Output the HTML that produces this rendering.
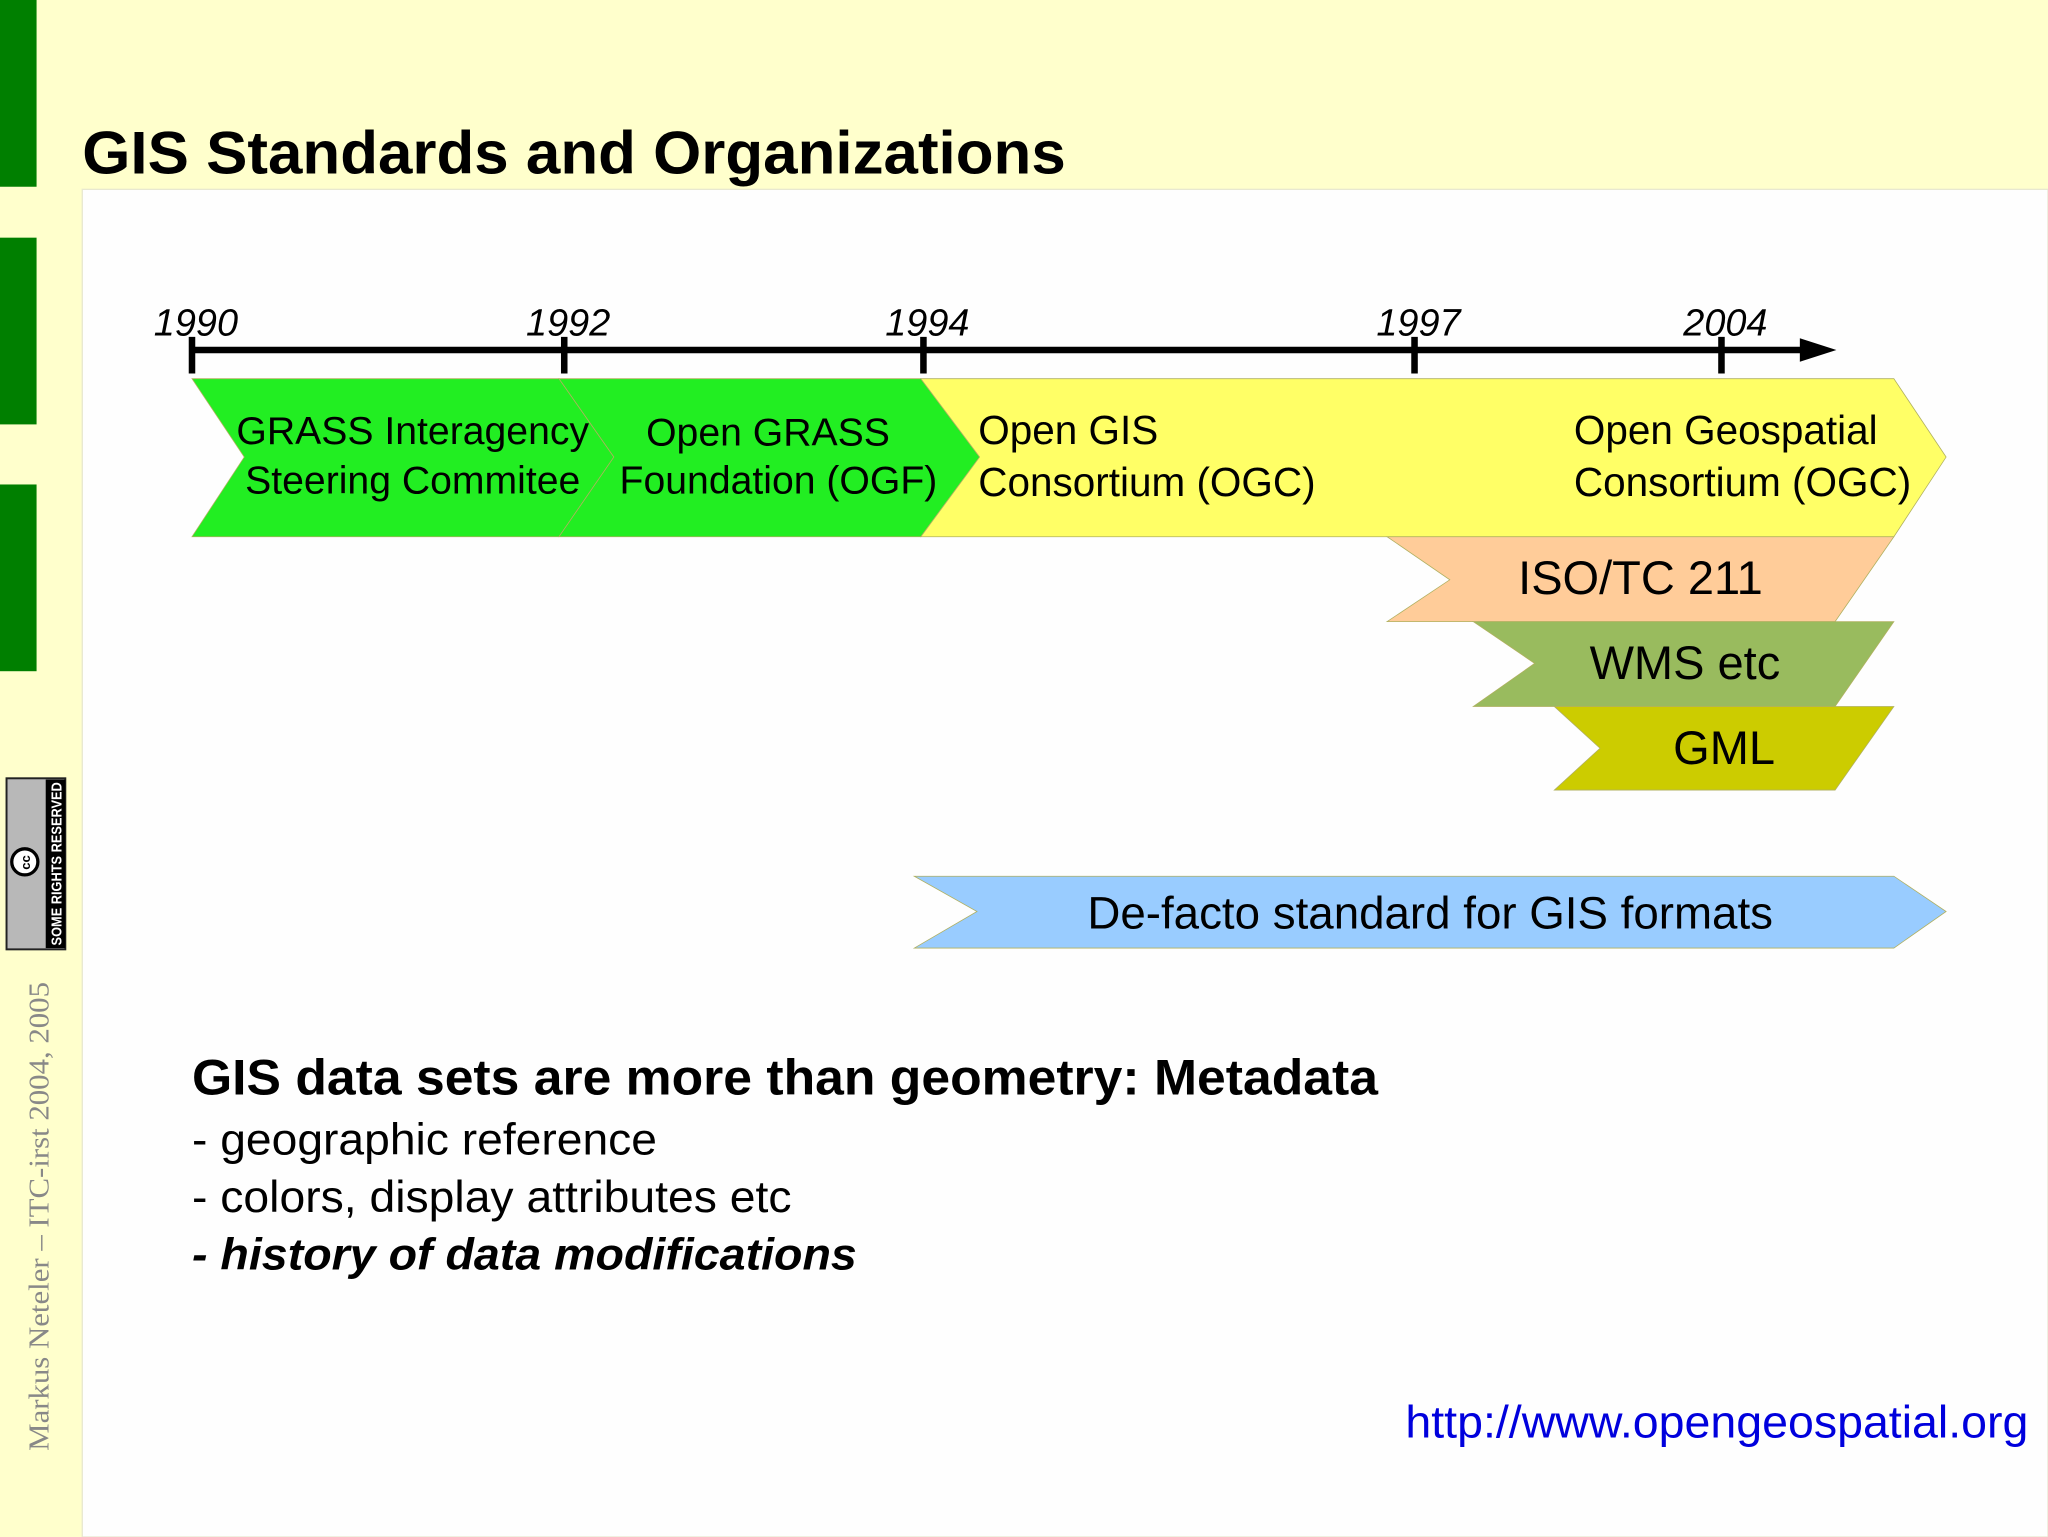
<!DOCTYPE html>
<html><head><meta charset="utf-8"><style>
html,body{margin:0;padding:0;background:#ffffc8;}
svg{display:block;}
text{font-family:"Liberation Sans",sans-serif;}
</style></head><body>
<svg width="2048" height="1537" viewBox="0 0 1568 1177" preserveAspectRatio="none" xmlns="http://www.w3.org/2000/svg">
<rect x="0" y="0" width="1568" height="1177" fill="#ffffcc"/>
<rect x="63" y="145" width="1505" height="1032" fill="#fefefe" stroke="#e8e8d0" stroke-width="1"/>
<rect x="0" y="0" width="28" height="143" fill="#007f00"/>
<rect x="0" y="182" width="28" height="143" fill="#007f00"/>
<rect x="0" y="371" width="28" height="143" fill="#007f00"/>
<text x="63" y="133" font-size="46" font-weight="bold" fill="#000" textLength="753" lengthAdjust="spacingAndGlyphs">GIS Standards and Organizations</text>

<g>
<rect x="5" y="596" width="45" height="131" fill="#b8b8b8" stroke="#222" stroke-width="1.5"/>
<rect x="35" y="597" width="15" height="129" fill="#000"/>
<text x="0" y="0" font-size="11" font-weight="bold" fill="#fff" transform="translate(47,724) rotate(-90)" textLength="125" lengthAdjust="spacingAndGlyphs">SOME RIGHTS RESERVED</text>
<circle cx="19" cy="660" r="10" fill="#fff" stroke="#000" stroke-width="2.5"/>
<text x="0" y="0" font-size="10" font-weight="bold" fill="#000" transform="translate(23,666) rotate(-90)">cc</text>
</g>
<text x="0" y="0" font-size="22" fill="#888" transform="translate(37,1111) rotate(-90)" style="font-family:'Liberation Serif',serif" textLength="359" lengthAdjust="spacingAndGlyphs">Markus Neteler – ITC-irst 2004, 2005</text>

<g id="timeline"></g>

<g id="bands"></g>

<text x="147" y="838" font-size="38" font-weight="bold" textLength="908" lengthAdjust="spacingAndGlyphs">GIS data sets are more than geometry: Metadata</text>
<text x="147" y="884" font-size="34" textLength="356" lengthAdjust="spacingAndGlyphs">- geographic reference</text>
<text x="147" y="928" font-size="34" textLength="459" lengthAdjust="spacingAndGlyphs">- colors, display attributes etc</text>
<text x="147" y="972" font-size="34" font-weight="bold" font-style="italic" textLength="509" lengthAdjust="spacingAndGlyphs">- history of data modifications</text>
<text x="1076" y="1101" font-size="35" fill="#0000dd" textLength="477" lengthAdjust="spacingAndGlyphs">http://www.opengeospatial.org</text>

<script>
const years=["1990","1992","1994","1997","2004"];
const yearX=[147,432,707,1083,1318];
const NS="http://www.w3.org/2000/svg";
const tl=document.getElementById('timeline');
function mk(tag,attrs,parent){const e=document.createElementNS(NS,tag);for(const k in attrs)e.setAttribute(k,attrs[k]);parent.appendChild(e);return e;}
const line=mk('line',{x1:145,y1:268,x2:1382,y2:268,stroke:'#000','stroke-width':5},tl);


const arr=mk('polygon',{points:'1378,259 1406,268 1378,277',fill:'#000'},tl);


years.forEach((y,i)=>{
  const t=mk('line',{x1:yearX[i],y1:258,x2:yearX[i],y2:286,stroke:'#000','stroke-width':5},tl);
  
  
  const lb=mk('text',{x:yearX[i]+3,y:257,'font-size':29,'font-style':'italic','text-anchor':'middle'},tl);
  lb.textContent=y;
  
  
});
const bandNames=["grass-steering-committee","open-grass-foundation","open-gis-consortium","iso-tc-211","wms-etc","gml","de-facto-standard"];
const bandPts=[
"147,290 428,290 470,350 428,411 147,411 187,350",
"428,290 705,290 750,350 705,411 428,411 470,350",
"705,290 1450,290 1490,350 1450,411 705,411 750,350",
"1062,411 1450,411 1405,476 1062,476 1110,444",
"1128,476 1450,476 1405,541 1128,541 1175,508",
"1190,541 1450,541 1405,605 1190,605 1225,573",
"700,671 1450,671 1490,698 1450,726 700,726 748,698"];
const bandFill=["#22ee22","#22ee22","#ffff66","#ffcc99","#99bb5e","#cccc00","#99ccff"];
const bandText=[
[[316,340,"GRASS Interagency"],[316,378,"Steering Commitee"]],
[[588,341,"Open GRASS"],[596,378,"Foundation (OGF)"]],
[[749,340,"Open GIS"],[749,380,"Consortium (OGC)"]],
[[1256,455,"ISO/TC 211"]],
[[1290,520,"WMS etc"]],
[[1320,585,"GML"]],
[[1095,711,"De-facto standard for GIS formats"]]];
const bandFont=[30,30,31,36,36,36,35];
const bg=document.getElementById('bands');
bandNames.forEach((n,i)=>{
  const g=mk('g',{},bg);
  
  
  mk('polygon',{points:bandPts[i],fill:bandFill[i],stroke:'#b0b060','stroke-width':0.6},g);
  bandText[i].forEach(([x,y,s])=>{
    const anchor=(i===2)?'start':'middle';
    const t=mk('text',{x:x,y:y,'font-size':bandFont[i],'text-anchor':anchor},g);
    t.textContent=s;
  });
});
const g2=mk('g',{},bg);


[[340,"Open Geospatial"],[380,"Consortium (OGC)"]].forEach(([y,s])=>{const t=mk('text',{x:1205,y:y,'font-size':31},g2);t.textContent=s;});
</script>
</svg>
</body></html>
